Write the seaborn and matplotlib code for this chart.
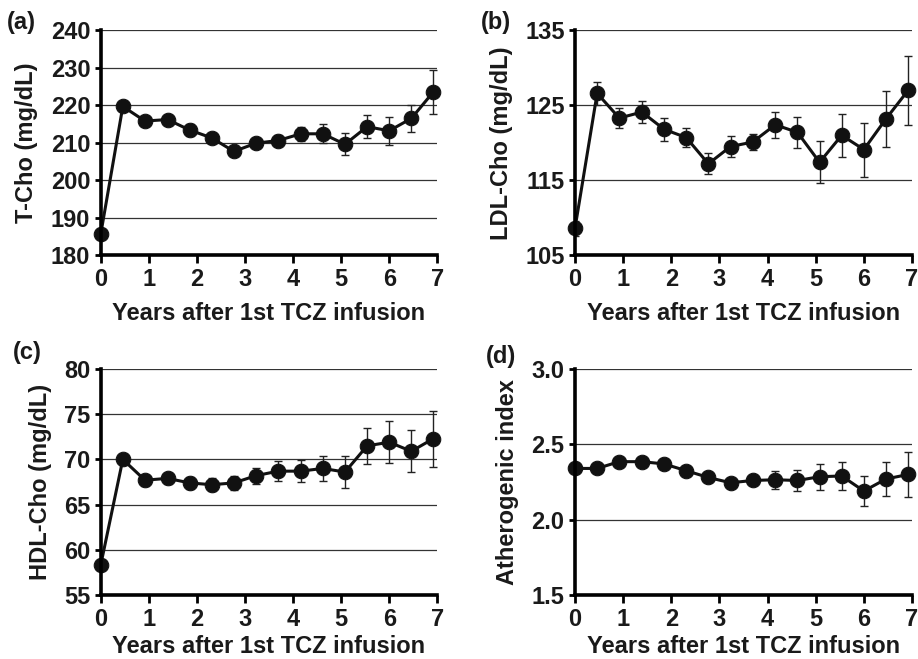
import matplotlib
matplotlib.use("Agg")
import matplotlib.pyplot as plt
import seaborn as sns
import pandas as pd
import numpy as np

sns.set_theme(style="white")
plt.rcParams['font.family'] = ['Liberation Sans', 'DejaVu Sans']
plt.rcParams['font.weight'] = 'bold'

years = [0, 0.46, 0.92, 1.39, 1.85, 2.31, 2.77, 3.23, 3.69, 4.16, 4.62, 5.08, 5.54, 6.0, 6.46, 6.92]

tcho = [185.6, 219.7, 215.8, 216.2, 213.4, 211.3, 207.7, 209.9, 210.6, 212.4, 212.4, 209.6, 214.3, 213.2, 216.5, 223.6]
tcho_err = [0.8, 0.9, 1.2, 1.1, 1.5, 1.2, 1.0, 1.3, 1.5, 1.8, 2.5, 2.9, 3.0, 3.8, 3.6, 5.8]

ldl = [108.6, 126.6, 123.3, 124.1, 121.8, 120.7, 117.2, 119.5, 120.1, 122.4, 121.4, 117.4, 121.0, 119.1, 123.2, 127.0]
ldl_err = [1.0, 1.5, 1.3, 1.5, 1.5, 1.3, 1.4, 1.4, 1.1, 1.7, 2.1, 2.8, 2.9, 3.6, 3.7, 4.6]

hdl = [58.3, 70.0, 67.7, 67.9, 67.4, 67.2, 67.4, 68.2, 68.7, 68.7, 69.0, 68.6, 71.5, 71.9, 70.9, 72.3]
hdl_err = [0.5, 0.6, 0.6, 0.6, 0.7, 0.7, 0.8, 0.9, 1.1, 1.2, 1.4, 1.8, 2.0, 2.3, 2.3, 3.1]

ai = [2.34, 2.34, 2.385, 2.385, 2.37, 2.325, 2.28, 2.245, 2.26, 2.265, 2.26, 2.285, 2.29, 2.19, 2.27, 2.30]
ai_err = [0.02, 0.02, 0.03, 0.03, 0.03, 0.03, 0.03, 0.03, 0.03, 0.06, 0.07, 0.085, 0.095, 0.10, 0.11, 0.15]

panels = [
    ("(a)", "T-Cho (mg/dL)", tcho, tcho_err, [180, 190, 200, 210, 220, 230, 240], "{:.0f}"),
    ("(b)", "LDL-Cho (mg/dL)", ldl, ldl_err, [105, 115, 125, 135], "{:.0f}"),
    ("(c)", "HDL-Cho (mg/dL)", hdl, hdl_err, [55, 60, 65, 70, 75, 80], "{:.0f}"),
    ("(d)", "Atherogenic index", ai, ai_err, [1.5, 2.0, 2.5, 3.0], "{:.1f}"),
]

xlabel = "Years after 1st TCZ infusion"
xticks = [0, 1, 2, 3, 4, 5, 6, 7]

fig = plt.figure(figsize=(9.18, 6.59), dpi=100)
W, H = 918, 659
rects = [
    (100.7, 30.3, 437.3, 255.3),
    (575.0, 30.3, 912.0, 255.3),
    (100.7, 369.0, 437.3, 595.0),
    (575.0, 369.0, 912.0, 595.0),
]
label_pos = [(7, 23), (481, 22), (13, 353), (486, 357)]
xlabelpads = [8, 8, 3, 3]

for i, (tag, ylab, vals, errs, yt, fmt) in enumerate(panels):
    x0, y0, x1, y1 = rects[i]
    ax = fig.add_axes([x0 / W, 1 - y1 / H, (x1 - x0) / W, (y1 - y0) / H])
    df = pd.DataFrame({"year": years, "value": vals, "err": errs})
    ax.errorbar(df["year"], df["value"], yerr=df["err"], fmt="none", ecolor="#222222",
                elinewidth=1.0, capsize=3, capthick=1.0, zorder=3)
    sns.lineplot(data=df, x="year", y="value", ax=ax, color="#111111", linewidth=2.2,
                 marker="o", markersize=10.5, markeredgecolor="#111111",
                 markerfacecolor="#111111", zorder=4, clip_on=False)
    ax.set_xlim(0, 7)
    ax.set_ylim(yt[0], yt[-1])
    ax.set_xticks(xticks)
    ax.set_yticks(yt)
    ax.set_yticklabels([fmt.format(v) for v in yt])
    for v in yt[1:]:
        ax.axhline(v, color="#333333", linewidth=0.9, zorder=1)
    for s in ["top", "right"]:
        ax.spines[s].set_visible(False)
    for s in ["left", "bottom"]:
        ax.spines[s].set_color("black")
        ax.spines[s].set_linewidth(2.6)
        ax.spines[s].set_zorder(5)
    ax.tick_params(axis="x", which="major", direction="out", length=6, width=2,
                   color="black", labelsize=17, pad=3, bottom=True)
    ax.tick_params(axis="y", which="major", direction="out", length=4.5, width=2,
                   color="black", labelsize=17, pad=3, left=True)
    for lab in ax.get_xticklabels() + ax.get_yticklabels():
        lab.set_fontweight("bold")
        lab.set_color("#1a1a1a")
    ax.set_xlabel(xlabel, fontsize=17, fontweight="bold", color="#1a1a1a",
                  labelpad=xlabelpads[i])
    ax.set_ylabel(ylab, fontsize=17, fontweight="bold", color="#1a1a1a", labelpad=9)
    ax.grid(False)
    fig.text(label_pos[i][0] / W, 1 - label_pos[i][1] / H, tag, fontsize=17,
             fontweight="bold", ha="left", va="center", color="#1a1a1a")

fig.savefig("out.png", dpi=100)
